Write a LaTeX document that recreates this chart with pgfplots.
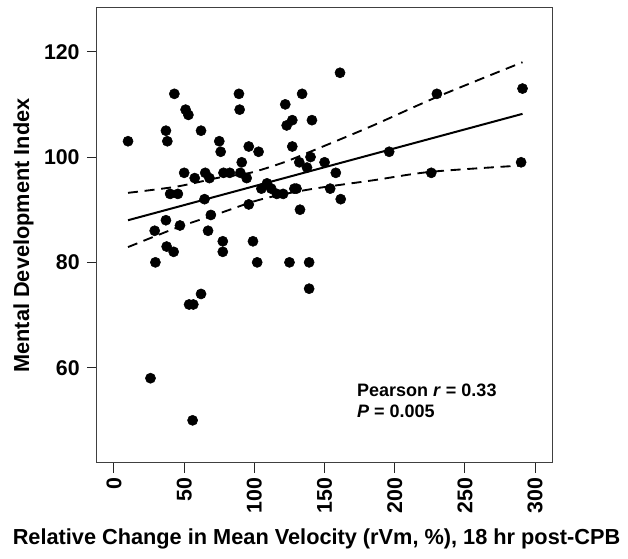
\documentclass[border=0pt]{standalone}
\usepackage{fontspec}
\setmainfont{Liberation Sans}
\usepackage{pgfplots}
\pgfplotsset{compat=1.18}
\begin{document}
\begin{tikzpicture}
\begin{axis}[
  at={(0,0)}, anchor=south west,
  width=341.25pt, height=341.25pt, scale only axis,
  xmin=-12.1, xmax=312, ymin=41.9, ymax=128.3,
  xtick={0,50,...,300}, ytick={60,80,100,120},
  xtick pos=lower, ytick pos=left,
  tick align=outside, major tick length=7.5pt,
  tick style={line width=0.75pt, black!85},
  axis line style={line width=0.75pt, black!75},
  /pgf/number format/assume math mode=true,
  ticklabel style={font=\fontsize{16}{19}\selectfont\bfseries},
  xticklabel style={rotate=90, anchor=east},
  yticklabel style={xshift=-2pt},
  xlabel={Relative Change in Mean Velocity (rVm, \%), 18 hr post-CPB},
  ylabel={Mental Development Index},
  label style={font=\fontsize{16.3}{19}\selectfont\bfseries},
  xlabel style={xshift=-6pt, yshift=-4.5pt},
  ylabel style={yshift=1pt},
  clip=false,
]
\addplot[only marks, mark=*, mark size=3.8pt, black] coordinates {
(10,103) (43,112) (37,105) (38,103) (51,109) (53,108) (62,105) (89,112)
(89.5,109) (75,103) (76,101) (96,102) (103,101) (91,99) (122,110) (127,107)
(123,106) (134,112) (141,107) (127,102) (161,116) (50,97) (57.5,96) (65,97)
(68,96) (78,97) (82.5,97) (90,97) (94.5,96) (40,93) (45.5,93) (64.5,92)
(69,89) (37,88) (29,86) (47,87) (67,86) (96,91) (77.5,84) (77.5,82)
(99,84) (37.5,83) (42.5,82) (29.5,80) (102,80) (125,80) (139,80) (139,75)
(53.5,72) (56.5,72) (62,74) (26,58) (56,50) (105,94) (109,95) (112,94)
(116,93) (120.5,93) (128.5,94) (130,94) (132,99) (137.5,98) (140,100) (150,99)
(132.5,90) (154,94) (158,97) (161.5,92) (230,112) (291,113) (196,101) (226,97)
(290,99)
};
\addplot[black, line width=1.5pt] coordinates {(10,88) (291,108.2)};
\addplot[black, line width=1.4pt, dash pattern=on 7.5pt off 5pt, smooth] coordinates {
(10,93.2) (45,94.4) (75,96.1) (97,97.0) (120,98.9) (137,100.7) (182,105.7) (230,111.4) (291,118)};
\addplot[black, line width=1.4pt, dash pattern=on 7.5pt off 5pt, smooth] coordinates {
(10,82.9) (45,86.6) (75,89.3) (100,91.6) (120,92.9) (145,94.1) (185,95.6) (226,97.2) (291,98.4)};
\node[anchor=base west, font=\fontsize{13.5}{16}\selectfont\bfseries, inner sep=0pt] at (axis cs:173,54.6) {Pearson \textit{r} = 0.33};
\node[anchor=base west, font=\fontsize{13.5}{16}\selectfont\bfseries, inner sep=0pt] at (axis cs:173,50.6) {\textit{P} = 0.005};
\end{axis}
\pgfresetboundingbox
\path[use as bounding box] (-72.75pt,-72pt) rectangle (398.25pt,347.25pt);
\end{tikzpicture}
\end{document}
